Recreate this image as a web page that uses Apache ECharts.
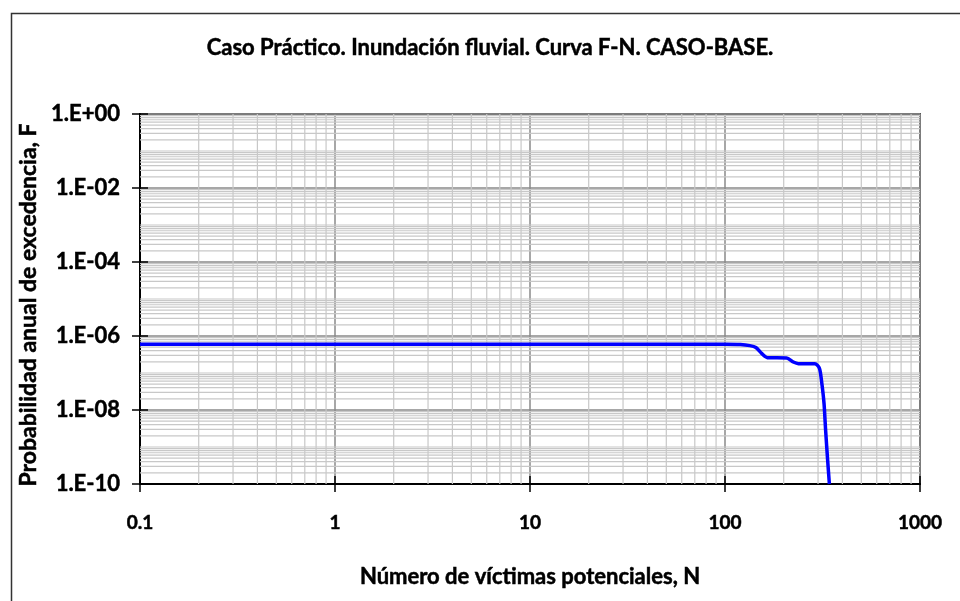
<!DOCTYPE html>
<html>
<head>
<meta charset="utf-8">
<script src="https://cdn.jsdelivr.net/npm/echarts@6/dist/echarts.min.js"></script>
<style>
  html, body { margin: 0; padding: 0; background: #ffffff; }
  #chart { width: 960px; height: 601px; }
</style>
</head>
<body>
<div id="chart"></div>
<script>
// Curva F-N, caso base: número de víctimas N y probabilidad anual de excedencia F
const victimas = [0.1, 100, 120, 134, 144, 154, 165, 207, 224, 238, 289, 305, 313, 322, 328, 336, 343];
const probabilidad = [6.0e-7, 6.0e-7, 5.9e-7, 5.5e-7, 4.9e-7, 3.4e-7, 2.6e-7, 2.55e-7, 1.98e-7, 1.79e-7, 1.79e-7, 1.34e-7, 5.8e-8, 1.5e-8, 2.9e-9, 4.4e-10, 1.0e-10];

// Marcas de los ejes
const xTicks = [0.1, 1, 10, 100, 1000];
const xTickLabels = ['0.1', '1', '10', '100', '1000'];
const yTicks = [1e-10, 1e-8, 1e-6, 1e-4, 1e-2, 1];
const yTickLabels = ['1.E-10', '1.E-08', '1.E-06', '1.E-04', '1.E-02', '1.E+00'];

const FONT = 'Lato';
// trazo fino del mismo color para dar más peso a la negrita
const HEAVY = { textBorderColor: '#000', textBorderWidth: 0.5 };

function labelFor(ticks, labels) {
  return function (v) {
    const i = ticks.findIndex(t => Math.abs(Math.log10(t) - Math.log10(v)) < 1e-6);
    return i >= 0 ? labels[i] : '';
  };
}

// Líneas secundarias de la cuadrícula logarítmica (2..9 en cada década)
const minorX = [];
for (let e = -1; e < 3; e++) {
  for (let k = 2; k <= 9; k++) minorX.push(k * Math.pow(10, e));
}
const minorY = [];
for (let e = -10; e < 0; e++) {
  for (let k = 2; k <= 9; k++) minorY.push(k * Math.pow(10, e));
}
// décadas impares, sin etiqueta
minorY.push(1e-9, 1e-7, 1e-5, 1e-3, 1e-1);

const MINOR_COLOR = '#c8c8c8';

function gridLines(values, vertical) {
  return {
    type: 'custom', z: 1, silent: true, clip: true,
    data: values.map(v => vertical ? [v, 1] : [1, v]),
    renderItem: function (params, api) {
      const cs = params.coordSys;
      const p = api.coord([api.value(0), api.value(1)]);
      const shape = vertical
        ? { x1: p[0], y1: cs.y, x2: p[0], y2: cs.y + cs.height }
        : { x1: cs.x, y1: p[1], x2: cs.x + cs.width, y2: p[1] };
      return { type: 'line', shape: shape, style: { stroke: MINOR_COLOR, lineWidth: 1.2 } };
    }
  };
}

const chart = echarts.init(document.getElementById('chart'), null, { renderer: 'canvas' });

chart.setOption({
  animation: false,
  backgroundColor: '#ffffff',
  title: [
    {
      text: 'Caso Práctico. Inundación fluvial. Curva F-N. CASO-BASE.',
      left: 485, top: 32, textAlign: 'center',
      textStyle: Object.assign({ fontFamily: FONT, fontWeight: 'bold', fontSize: 22, color: '#000' }, HEAVY)
    }
  ],
  graphic: [
    {
      type: 'rect', left: 9, top: 11, silent: true,
      shape: { width: 1000, height: 700 },
      style: { fill: 'none', stroke: '#333', lineWidth: 1.5 }
    }
  ],
  grid: {
    left: 140, top: 114, right: 40, bottom: 117,
    show: true, borderColor: '#555', borderWidth: 2, backgroundColor: 'transparent'
  },
  xAxis: [
    {
      type: 'log', logBase: 10, min: 0.1, max: 1000, interval: 1,
      name: 'Número de víctimas potenciales, N',
      nameLocation: 'middle', nameGap: 82,
      nameTextStyle: Object.assign({ fontFamily: FONT, fontWeight: 'bold', fontSize: 22, color: '#000' }, HEAVY),
      axisLine: { show: true, onZero: false, lineStyle: { color: '#000', width: 2 } },
      axisTick: { show: true, inside: false, length: 8, lineStyle: { color: '#000', width: 1.5 } },
      axisLabel: Object.assign({
        margin: 29, formatter: labelFor(xTicks, xTickLabels),
        fontFamily: FONT, fontWeight: 'bold', fontSize: 19, color: '#000'
      }, HEAVY),
      splitLine: { show: true, lineStyle: { color: '#8a8a8a', width: 1.5 } }
    },
    {
      type: 'log', logBase: 10, min: 0.1, max: 1000, interval: 1, position: 'bottom',
      axisLine: { show: false },
      axisTick: { show: true, inside: true, length: 8, lineStyle: { color: '#000', width: 1.5 } },
      axisLabel: { show: false }, splitLine: { show: false }
    }
  ],
  yAxis: [
    {
      type: 'log', logBase: 10, min: 1e-10, max: 1, interval: 2,
      name: 'Probabilidad anual de excedencia, F',
      nameLocation: 'middle', nameRotate: 90, nameGap: 97,
      nameTextStyle: Object.assign({
        fontFamily: FONT, fontWeight: 'bold', fontSize: 23, color: '#000',
        padding: [0, 12, 0, 0]
      }, HEAVY),
      axisLine: { show: true, onZero: false, lineStyle: { color: '#000', width: 2 } },
      axisTick: { show: true, inside: false, length: 8, lineStyle: { color: '#000', width: 1.5 } },
      axisLabel: Object.assign({
        margin: 20, formatter: labelFor(yTicks, yTickLabels),
        fontFamily: FONT, fontWeight: 'bold', fontSize: 22, color: '#000'
      }, HEAVY),
      splitLine: { show: true, lineStyle: { color: '#8a8a8a', width: 1.5 } }
    },
    {
      type: 'log', logBase: 10, min: 1e-10, max: 1, interval: 2, position: 'left',
      axisLine: { show: false },
      axisTick: { show: true, inside: true, length: 8, lineStyle: { color: '#000', width: 1.5 } },
      axisLabel: { show: false }, splitLine: { show: false }
    }
  ],
  series: [
    gridLines(minorX, true),
    gridLines(minorY, false),
    {
      name: 'F-N',
      type: 'line', z: 5,
      data: victimas.map((n, i) => [n, probabilidad[i]]),
      showSymbol: false, smooth: 0.25,
      lineStyle: { color: '#0000ff', width: 3.5 }
    }
  ]
});
</script>
</body>
</html>
